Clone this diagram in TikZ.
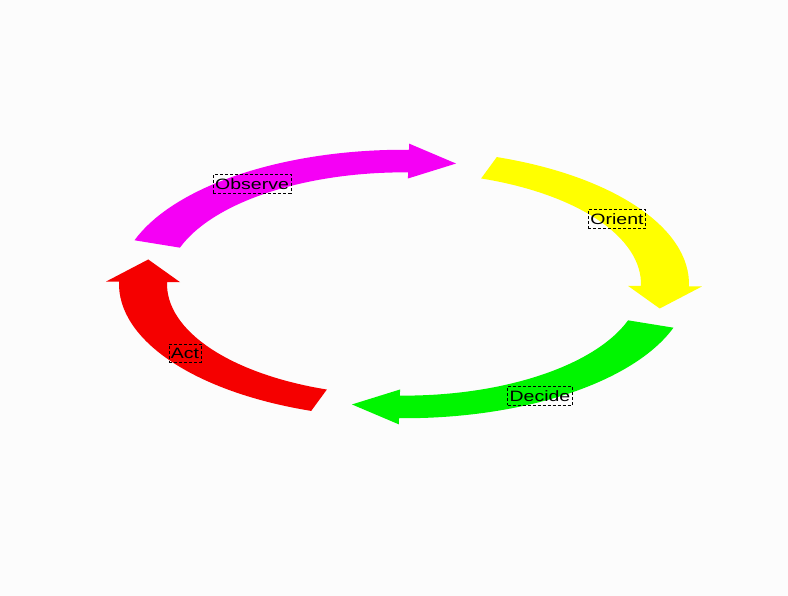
\documentclass[tikz,border=0pt]{standalone}
\usepackage{fontspec}
\newfontfamily\phasefont{Liberation Sans}[FakeStretch=1.3]
\usepackage{xcolor}
\definecolor{paper}{RGB}{252,252,252}
\definecolor{observe}{RGB}{245,0,245}
\definecolor{orient}{RGB}{255,255,0}
\definecolor{decide}{RGB}{0,245,0}
\definecolor{act}{RGB}{245,0,0}
\usetikzlibrary{positioning}
\tikzset{
  %% Phase labels on the ring
  phase/.style={draw=black, dashed, dash pattern=on 3pt off 2pt, thin,
                inner xsep=2pt, inner ysep=4pt,
                font=\phasefont\fontsize{15}{17}\selectfont},
}

\begin{document}
\begin{tikzpicture}[x=1pt,y=1pt]
\fill[paper] (0,0) rectangle (788,596);
\useasboundingbox (0,0) rectangle (788,596);
\coordinate (ring) at (404,312);
%% Ring of arrows, drawn flat and squashed
\begin{scope}[shift={(ring)}, yscale=0.471]
\foreach \tail/\tint in {161/observe, 71/orient, -19/decide, -109/act}{
  \pgfmathsetmacro\headbase{\tail-72}
  \pgfmathsetmacro\headtip{\tail-82.5}
  \fill[\tint] (\tail:285) arc[start angle=\tail, end angle=\headbase, radius=285]
    -- (\headbase:298) -- (\headtip:261) -- (\headbase:224) -- (\headbase:237)
    arc[start angle=\headbase, end angle=\tail, radius=237] -- cycle;
}
\end{scope}
\node[phase] (obs) at (252,412) {Observe};
\node[phase] (ori) at (617,377) {Orient};
\node[phase] (dec) at (540,200) {Decide};
\node[phase] (act) at (185,243) {Act};
\end{tikzpicture}
\end{document}
